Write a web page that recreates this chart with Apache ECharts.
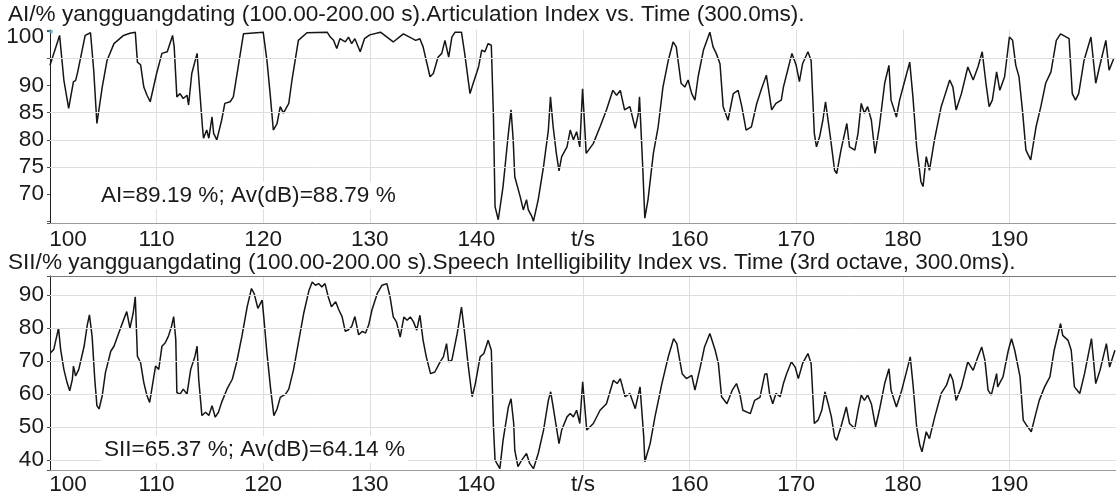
<!DOCTYPE html>
<html>
<head>
<meta charset="utf-8">
<title>AI / SII vs. Time</title>
<script src="https://cdn.jsdelivr.net/npm/echarts@6/dist/echarts.min.js"></script>
<style>
  html, body { margin: 0; padding: 0; background: #fff; }
  #chart { width: 1116px; height: 498px; }
</style>
</head>
<body>
<div id="chart"></div>
<script>
// Articulation Index (t in s, value in %)
const aiTime = [100.0, 100.9, 101.3, 101.75, 102.2, 102.4, 102.6, 103.3, 103.8, 104.1, 104.4, 104.9, 105.35, 106.0, 106.9, 107.5, 108.0, 108.2, 108.5, 108.8,
  109.1, 109.4, 110.0, 110.5, 111.0, 111.3, 111.5, 111.65, 111.9, 112.2, 112.5, 112.85, 113.0, 113.3, 113.8, 113.9, 114.3, 114.4, 114.7, 114.9,
  115.2, 115.35, 115.65, 116.1, 116.4, 116.9, 117.2, 117.7, 118.15, 120.0, 120.35, 120.65, 120.95, 121.3, 121.6, 121.9, 122.4, 122.7, 123.3, 124.1,
  126.0, 126.3, 126.6, 126.9, 127.2, 127.7, 128.0, 128.3, 128.6, 129.1, 129.5, 130.0, 131.0, 132.2, 133.15, 134.0, 134.3, 134.7, 135.0, 135.65,
  135.96, 136.4, 136.75, 137.05, 137.4, 137.7, 138.0, 138.6, 138.9, 139.4, 139.7, 140.2, 140.5, 140.8, 141.1, 141.4, 141.6, 141.75, 142.05, 142.5,
  143.0, 143.25, 143.45, 143.6, 144.1, 144.4, 144.7, 144.87, 145.2, 145.35, 145.8, 146.3, 146.75, 146.95, 147.2, 147.5, 147.75, 148.0, 148.5, 148.8,
  149.1, 149.4, 149.7, 149.96, 150.3, 150.96, 151.6, 152.2, 152.8, 153.15, 153.5, 153.9, 154.4, 154.9, 155.2, 155.3, 155.6, 155.8, 156.1, 156.6,
  157.05, 157.5, 158.0, 158.45, 158.75, 159.2, 159.55, 159.86, 160.2, 160.5, 160.8, 161.3, 161.9, 162.2, 162.5, 162.85, 163.15, 163.6, 164.1, 164.55,
  164.9, 165.3, 165.8, 166.3, 166.7, 167.2, 167.7, 168.1, 168.6, 168.8, 169.2, 169.6, 170.0, 170.3, 170.6, 171.1, 171.4, 171.7, 171.9, 172.2,
  172.5, 172.75, 173.2, 173.6, 173.8, 174.2, 174.75, 175.0, 175.5, 175.8, 176.1, 176.4, 176.7, 177.05, 177.4, 177.8, 178.3, 178.7, 178.9, 179.4,
  179.7, 180.2, 180.65, 180.95, 181.3, 181.7, 181.9, 182.2, 182.5, 182.97, 183.6, 183.9, 184.4, 184.7, 185.0, 185.5, 186.1, 186.6, 187.05, 187.45,
  187.8, 188.1, 188.4, 188.8, 189.1, 189.55, 190.0, 190.3, 190.6, 190.9, 191.25, 191.55, 192.0, 192.5, 192.95, 193.4, 193.9, 194.4, 194.8, 195.6,
  195.9, 196.2, 196.5, 197.0, 197.65, 198.1, 198.45, 199.05, 199.35, 199.8];
const aiValue = [93.7, 99.2, 91.0, 85.8, 90.7, 90.9, 92.5, 99.2, 99.7, 92.8, 83.0, 89.7, 94.6, 97.7, 99.2, 99.6, 99.8, 94.3, 93.8, 89.7,
  88.2, 87.0, 92.2, 95.9, 96.2, 98.0, 99.2, 97.1, 87.9, 88.5, 87.6, 88.2, 86.4, 92.2, 95.9, 92.8, 82.4, 80.3, 81.8, 80.3,
  84.2, 81.2, 80.0, 83.6, 86.7, 87.0, 87.9, 94.0, 99.5, 99.8, 94.6, 88.5, 81.8, 83.0, 86.1, 84.9, 86.7, 91.0, 98.3, 99.7,
  99.8, 98.9, 98.3, 96.8, 98.6, 98.0, 98.9, 97.7, 98.6, 96.2, 98.6, 99.3, 99.8, 98.0, 99.5, 98.6, 98.3, 98.6, 97.1, 91.6,
  92.2, 95.2, 95.9, 98.3, 95.2, 98.9, 99.8, 99.8, 95.9, 88.5, 90.4, 93.4, 96.5, 96.2, 97.7, 97.4, 84.2, 67.7, 65.3, 71.4,
  81.2, 85.5, 80.0, 73.2, 69.6, 67.1, 69.0, 67.1, 65.9, 65.0, 69.0, 75.1, 81.8, 87.9, 82.4, 77.5, 74.3, 76.9, 78.7, 81.8,
  80.0, 81.5, 78.7, 89.4, 77.5, 79.3, 82.4, 85.5, 89.1, 88.2, 89.1, 85.5, 86.1, 82.1, 84.9, 87.9, 75.1, 65.6, 69.0, 77.5,
  82.4, 89.7, 94.6, 98.0, 97.1, 90.4, 89.7, 91.0, 88.5, 87.3, 91.6, 96.5, 99.8, 97.1, 95.9, 94.0, 86.1, 83.6, 88.5, 89.1,
  86.1, 81.8, 82.4, 86.7, 89.1, 91.9, 85.5, 86.7, 87.3, 89.7, 92.8, 95.9, 93.7, 90.7, 94.0, 96.2, 94.6, 81.2, 78.7, 80.6,
  83.6, 87.0, 80.6, 74.4, 73.8, 78.1, 83.0, 78.7, 78.1, 81.2, 86.7, 84.9, 86.1, 83.6, 77.5, 82.4, 90.4, 93.7, 87.3, 84.2,
  87.3, 91.0, 94.3, 87.9, 78.7, 72.3, 71.4, 76.9, 74.4, 80.0, 86.1, 87.9, 91.0, 89.7, 85.5, 88.5, 93.4, 91.0, 93.4, 96.2,
  90.4, 86.1, 87.3, 92.5, 89.1, 91.6, 98.9, 98.3, 93.7, 91.6, 84.9, 78.1, 76.3, 82.4, 86.1, 90.4, 92.5, 98.3, 99.5, 98.6,
  88.5, 87.3, 88.5, 94.6, 98.9, 90.4, 93.4, 98.3, 92.8, 95.0];

// Speech Intelligibility Index
const siiTime = [100.04, 100.35, 100.8, 101.0, 101.3, 101.6, 101.85, 102.1, 102.2, 102.4, 102.7, 103.2, 103.5, 103.7, 103.95, 104.2, 104.4, 104.6, 104.9, 105.2,
  105.7, 106.0, 106.45, 106.9, 107.2, 107.5, 107.8, 108.0, 108.2, 108.5, 108.8, 109.1, 109.35, 109.6, 109.9, 110.2, 110.5, 110.8, 111.1, 111.4,
  111.6, 111.8, 111.9, 112.2, 112.5, 112.85, 113.2, 113.6, 113.8, 113.95, 114.25, 114.6, 114.9, 115.2, 115.5, 115.8, 116.1, 116.6, 117.1, 117.5,
  118.0, 118.5, 118.9, 119.15, 119.5, 119.9, 120.05, 120.35, 120.7, 121.0, 121.3, 121.6, 122.1, 122.4, 122.85, 123.3, 123.8, 124.3, 124.6, 124.9,
  125.2, 125.5, 125.8, 126.1, 126.4, 126.8, 127.1, 127.4, 127.7, 128.0, 128.3, 128.6, 128.95, 129.3, 129.6, 129.9, 130.2, 130.7, 131.15, 131.6,
  131.9, 132.2, 132.5, 132.85, 133.2, 133.5, 133.8, 134.1, 134.4, 134.7, 135.0, 135.3, 135.7, 136.1, 136.6, 136.9, 137.2, 137.4, 137.7, 138.2,
  138.6, 138.9, 139.25, 139.6, 139.9, 140.35, 140.7, 141.1, 141.4, 141.6, 141.75, 142.2, 142.5, 143.0, 143.25, 143.5, 143.6, 143.9, 144.25, 144.7,
  145.0, 145.35, 145.8, 146.3, 146.75, 146.97, 147.2, 147.5, 147.75, 148.0, 148.5, 148.8, 149.1, 149.4, 149.7, 149.97, 150.35, 150.97, 151.6, 152.2,
  152.85, 153.2, 153.5, 153.95, 154.4, 154.9, 155.35, 155.7, 155.8, 156.3, 156.75, 157.4, 158.0, 158.5, 158.8, 159.3, 159.7, 160.2, 160.5, 161.0,
  161.4, 161.9, 162.4, 162.7, 163.0, 163.5, 164.0, 164.4, 164.7, 165.0, 165.7, 166.1, 166.6, 167.05, 167.25, 167.5, 167.8, 168.1, 168.5, 168.8,
  169.1, 169.55, 169.9, 170.2, 170.6, 171.1, 171.4, 171.7, 172.05, 172.4, 172.7, 173.0, 173.3, 173.6, 173.8, 174.2, 174.7, 175.0, 175.5, 175.8,
  176.1, 176.4, 176.7, 177.05, 177.45, 177.8, 178.3, 178.7, 178.9, 179.4, 179.9, 180.3, 180.7, 180.95, 181.3, 181.6, 181.8, 182.2, 182.5, 183.0,
  183.6, 184.1, 184.45, 184.7, 185.0, 185.5, 186.1, 186.6, 187.05, 187.4, 187.7, 188.0, 188.3, 188.8, 188.9, 189.4, 189.9, 190.2, 190.5, 191.0,
  191.3, 191.6, 192.05, 192.4, 192.8, 193.3, 193.8, 194.2, 194.8, 195.0, 195.5, 195.8, 196.1, 196.6, 197.05, 197.7, 198.1, 198.5, 199.1, 199.4, 199.9];
const siiValue = [72.5, 73.5, 80, 73.5, 67.5, 63.5, 61, 64.5, 68.5, 65.5, 67.5, 74.5, 81, 84, 77.5, 64.5, 56.5, 55.5, 59.5, 66.5,
  73, 74.5, 78.5, 82.5, 85, 80, 84.5, 89.5, 71.5, 69.5, 63.5, 59.5, 57.5, 62.5, 68.5, 67.5, 74.5, 75.5, 77.5, 80.5,
  83.5, 76.5, 60.5, 60, 61.5, 60, 67.5, 71.5, 74.5, 64.5, 53.5, 54.5, 53.5, 56.5, 53, 54.5, 57.5, 61.5, 64.5, 69.5,
  77.5, 86.5, 92, 90.5, 86, 88.5, 83.5, 72.5, 61.5, 53.5, 55.5, 59, 60, 61.5, 67.5, 75.5, 84.5, 91.5, 94, 93,
  93.5, 92.5, 93.5, 89.5, 86.5, 88, 85.5, 83.5, 79, 79.5, 80.5, 83.5, 78, 79, 78.5, 81, 85.5, 90.5, 93, 93.5,
  89.5, 83.4, 81.9, 77.3, 83.4, 82.4, 83.4, 81.9, 79.4, 83.9, 76.3, 71.3, 66.2, 66.7, 69.8, 71.3, 75.3, 69.8, 70.3, 78.4,
  86.4, 78.4, 68.2, 59.2, 63.2, 71.3, 72.3, 76.3, 73.3, 50.1, 40, 37.4, 46, 56.1, 58.6, 51.1, 43, 38, 40, 42,
  39, 37.4, 42, 49.1, 58.1, 60.7, 56.1, 50.1, 45, 49.1, 53.1, 54.1, 53.1, 55.1, 51.1, 63.7, 49.1, 51.1, 55.1, 57.1,
  64.2, 63.2, 64.7, 59.2, 60.2, 55.6, 62.2, 47, 39.5, 45, 53.1, 63.2, 71.3, 76.8, 75.3, 66.2, 64.7, 65.7, 61.2, 68.2,
  74.3, 78.4, 73.3, 69.3, 59.2, 57.1, 61.2, 63.2, 60.2, 55.1, 54.1, 58.1, 59, 66, 66.2, 60.2, 57.1, 60.2, 59.2, 63.2,
  66.2, 69.8, 68.2, 64.7, 69.3, 72.3, 69.3, 51.1, 52.1, 55.1, 60.7, 57.1, 53.1, 47, 46, 50.1, 56.1, 51.1, 49.6, 55.1,
  59.7, 58.1, 59.7, 57.1, 50.1, 55.1, 63.2, 67.7, 61.2, 56.1, 61.2, 66.2, 71.3, 63.2, 50.1, 44.5, 42.5, 48.6, 46.5, 53.1,
  60.2, 62.7, 66.2, 64.2, 58.1, 62.2, 69.8, 67.2, 71.3, 74.3, 70.3, 61.2, 59.7, 66.2, 62.2, 65.2, 73.3, 76.8, 73.3, 65.2,
  52.1, 50.6, 48.6, 53.1, 58.1, 62.2, 65.2, 73.3, 81.4, 77.8, 76.3, 73.3, 62.2, 60.2, 66.2, 76.8, 63.2, 67.2, 75.3, 68.2, 73.3];

const aiLabels = [100, 90, 85, 80, 75, 70];
const aiGridLines = [95, 85, 80, 75];
const siiLabels = [90, 80, 70, 60, 50, 40];
const siiGridLines = [90, 80, 70, 60, 50, 40];
const cursorPoint = [[100.1, 99.9]];

const aiTitle = 'AI/% yangguangdating (100.00-200.00 s).Articulation Index vs. Time (300.0ms).';
const siiTitle = 'SII/% yangguangdating (100.00-200.00 s).Speech Intelligibility Index vs. Time (3rd octave, 300.0ms).';
const aiNote = 'AI=89.19 %; Av(dB)=88.79 %';
const siiNote = 'SII=65.37 %; Av(dB)=64.14 %';

const font = '"Liberation Sans", Arial, sans-serif';
const fontSize = 22.6;
const textColor = '#1a1a1a';
const gridColor = '#dedede';

function pairs(xs, ys) {
  return xs.map((x, i) => [x, ys[i]]);
}

function xAxisFor(gridIndex, margin) {
  return {
    gridIndex: gridIndex,
    type: 'value',
    min: 100,
    max: 200,
    interval: 10,
    axisLine: { show: true, lineStyle: { color: '#9a9a9a', width: 1 } },
    axisTick: { show: false },
    axisLabel: {
      margin: margin,
      fontSize: fontSize,
      fontFamily: font,
      color: textColor,
      showMaxLabel: false,
      formatter: function (v) {
        if (v === 150) return 't/s';
        if (v === 200) return '';
        if (v === 100) return '{first|100}';
        return String(v);
      },
      rich: { first: { fontSize: fontSize, fontFamily: font, color: textColor, padding: [0, 0, 0, 36] } }
    },
    splitLine: { show: true, lineStyle: { color: gridColor, width: 1 } }
  };
}

function yAxisFor(gridIndex, min, max, splitNumber, labels) {
  return {
    gridIndex: gridIndex,
    type: 'value',
    min: min,
    max: max,
    splitNumber: splitNumber,
    axisLine: { show: true, lineStyle: { color: '#1e1e1e', width: 1 } },
    axisTick: { show: true, length: 3, lineStyle: { color: '#555' } },
    axisLabel: {
      margin: 6,
      fontSize: fontSize,
      fontFamily: font,
      color: textColor,
      formatter: function (v) {
        const r = Math.round(v * 10) / 10;
        if (labels.indexOf(r) < 0) return '';
        if (gridIndex === 0 && r === 100) return '{top|100}';
        return String(r);
      },
      rich: { top: { fontSize: fontSize, fontFamily: font, color: textColor, padding: [12, 0, 0, 0] } }
    },
    splitLine: { show: false }
  };
}

function gridSeries(xi, yi, values) {
  return {
    type: 'line',
    xAxisIndex: xi,
    yAxisIndex: yi,
    data: [],
    z: 1,
    silent: true,
    markLine: {
      silent: true,
      symbol: 'none',
      label: { show: false },
      lineStyle: { color: gridColor, type: 'solid', width: 1 },
      data: values.map(v => ({ yAxis: v }))
    }
  };
}

function noteTitle(text, left, top) {
  return {
    text: text,
    left: left,
    top: top,
    padding: [2, 3],
    backgroundColor: '#ffffff',
    textStyle: { fontSize: fontSize, fontWeight: 'normal', fontFamily: font, color: textColor }
  };
}

const chart = echarts.init(document.getElementById('chart'), null, { renderer: 'canvas' });

chart.setOption({
  animation: false,
  backgroundColor: '#ffffff',
  title: [
    { text: aiTitle, left: 8, top: 3, padding: 0, textStyle: { fontSize: fontSize, fontWeight: 'normal', fontFamily: font, color: textColor } },
    { text: siiTitle, left: 8, top: 251, padding: 0, textStyle: { fontSize: fontSize, fontWeight: 'normal', fontFamily: font, color: textColor } },
    noteTitle(aiNote, 98, 182),
    noteTitle(siiNote, 101, 436)
  ],
  grid: [
    { left: 50, right: 0, top: 30, height: 193 },
    { left: 50, right: 0, top: 276, height: 194 }
  ],
  xAxis: [
    xAxisFor(0, 5),
    xAxisFor(1, 3),
    {
      gridIndex: 1,
      type: 'value',
      position: 'top',
      min: 100,
      max: 200,
      axisLine: { show: true, lineStyle: { color: '#7a7a7a', width: 1 } },
      axisTick: { show: false },
      axisLabel: { show: false },
      splitLine: { show: false }
    }
  ],
  yAxis: [
    yAxisFor(0, 64.7, 100.2, 7, aiLabels),
    yAxisFor(1, 37, 95.8, 6, siiLabels)
  ],
  series: [
    gridSeries(0, 0, aiGridLines),
    gridSeries(1, 1, siiGridLines),
    {
      name: 'AI',
      type: 'line',
      xAxisIndex: 0,
      yAxisIndex: 0,
      data: pairs(aiTime, aiValue),
      showSymbol: false,
      z: 3,
      lineStyle: { color: '#151515', width: 1.5 }
    },
    {
      name: 'SII',
      type: 'line',
      xAxisIndex: 1,
      yAxisIndex: 1,
      data: pairs(siiTime, siiValue),
      showSymbol: false,
      z: 3,
      lineStyle: { color: '#151515', width: 1.5 }
    },
    {
      name: 'cursor',
      type: 'scatter',
      xAxisIndex: 0,
      yAxisIndex: 0,
      data: cursorPoint,
      symbolSize: 4,
      z: 4,
      itemStyle: { color: '#4fb3cf' }
    }
  ]
});
</script>
</body>
</html>
